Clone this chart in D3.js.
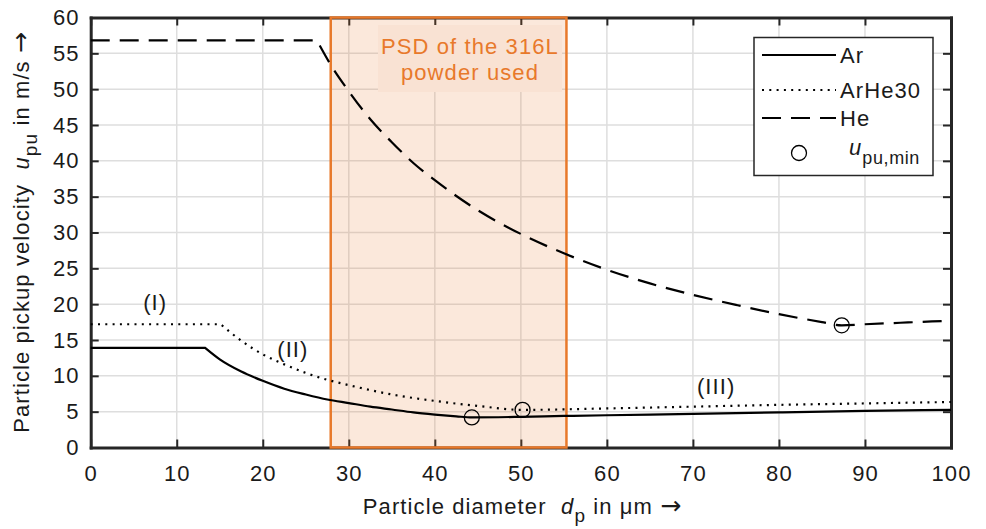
<!DOCTYPE html>
<html><head><meta charset="utf-8">
<script src="https://cdn.jsdelivr.net/npm/d3@7"></script>
<style>body{margin:0;background:#fff}svg{display:block;font-family:"Liberation Sans",Arial,sans-serif}</style>
</head><body><svg id="c" width="986" height="529"></svg>
<script>
// ---- data ----
const xTicks = [0,10,20,30,40,50,60,70,80,90,100];
const yTicks = [0,5,10,15,20,25,30,35,40,45,50,55,60];
const arX = [0,13.3,15,17.5,20,22.5,25,27.5,30,32.5,35,37.5,40,42.5,44.3,50,55,60,70,80,90,100];
const arY = [13.9,13.9,12.3,10.6,9.3,8.2,7.4,6.7,6.2,5.7,5.3,4.9,4.6,4.35,4.2,4.28,4.4,4.5,4.7,4.9,5.1,5.25];
const ahX = [0,15.1,17.5,20,22.5,25,27.5,30,35,40,45,50.2,60,70,80,90,100];
const ahY = [17.2,17.2,14.9,13.0,11.6,10.4,9.45,8.7,7.4,6.5,5.8,5.25,5.45,5.7,5.95,6.15,6.35];
const heX = [0,26.3,28,30,32.5,35,37.5,40,45,50,55,60,65,70,75,80,85,87.3,90,95,100];
const heY = [56.8,56.8,53.2,49.7,45.8,42.6,39.7,37.3,33.1,29.8,27.1,24.8,22.9,21.3,19.9,18.6,17.5,17.05,17.2,17.45,17.7];
const minX = [44.3,50.2,87.3];
const minY = [4.2,5.25,17.05];
const psdRange = [27.9,55.3];
const regionLabels = ["(I)","(II)","(III)"];
const regionX = [7.5,23.5,72.7];
const regionY = [19.2,12.6,7.45];
const legendNames = ["Ar","ArHe30","He"];
const legendDash = [null,"2,5.3","19,10"];

const svg = d3.select("#c");
const L=90.7,R=951,T=17.5,B=447.5;
const x = d3.scaleLinear().domain([0,100]).range([L,R]);
const y = d3.scaleLinear().domain([0,60]).range([B,T]);
const axisCol="#262626", orange="#e8792b", fs=22, ls="1.1px", txt="#1a1a1a";

// grid
const g = svg.append("g");
g.selectAll(".gx").data(xTicks.slice(1,-1)).join("line")
 .attr("x1",d=>x(d)).attr("x2",d=>x(d)).attr("y1",T).attr("y2",B)
 .attr("stroke","#dedede").attr("stroke-width",1.5);
g.selectAll(".gy").data(yTicks.slice(1,-1)).join("line")
 .attr("y1",d=>y(d)).attr("y2",d=>y(d)).attr("x1",L).attr("x2",R)
 .attr("stroke","#dedede").attr("stroke-width",1.5);

// axes (box with inward ticks)
const tl=8;
function styleAx(s){
  s.select(".domain").attr("stroke",axisCol).attr("stroke-width",3).attr("stroke-linecap","square");
  s.selectAll(".tick line").attr("stroke",axisCol).attr("stroke-width",2);
  s.selectAll("text").attr("font-size",fs).attr("fill",txt).attr("font-family","Liberation Sans, Arial").attr("letter-spacing",ls);
}
const ax = svg.append("g");
ax.append("g").attr("transform",`translate(0,${B})`)
 .call(d3.axisBottom(x).tickValues(xTicks).tickSizeInner(-tl).tickSizeOuter(0).tickPadding(17.5)).call(styleAx);
ax.append("g").attr("transform",`translate(${L},0)`)
 .call(d3.axisLeft(y).tickValues(yTicks).tickSizeInner(-tl).tickSizeOuter(0).tickPadding(11)).call(styleAx);
ax.append("g").attr("transform",`translate(0,${T})`)
 .call(d3.axisTop(x).tickValues(xTicks).tickSizeInner(-tl).tickSizeOuter(0).tickFormat("")).call(styleAx);
ax.append("g").attr("transform",`translate(${R},0)`)
 .call(d3.axisRight(y).tickValues(yTicks).tickSizeInner(-tl).tickSizeOuter(0).tickFormat("")).call(styleAx);

// PSD region
svg.append("rect").attr("x",x(psdRange[0])).attr("y",T).attr("width",x(psdRange[1])-x(psdRange[0])).attr("height",B-T)
 .attr("fill",orange).attr("fill-opacity",0.17).attr("stroke",orange).attr("stroke-width",2.5);

// curves: flat plateau then smooth branch
const smooth = d3.line().x(d=>x(d[0])).y(d=>y(d[1])).curve(d3.curveMonotoneX);
const series = [[arX,arY,null],[ahX,ahY,"2,5.3"],[heX,heY,"19,10"]];
series.forEach(([xs,ys,dash])=>{
  const pts = xs.map((v,i)=>[v,ys[i]]);
  const tail = smooth(pts.slice(1));
  const d = `M${x(pts[0][0])},${y(pts[0][1])}L` + tail.slice(1);
  svg.append("path").attr("d",d)
   .attr("fill","none").attr("stroke","#000").attr("stroke-width",2.2)
   .attr("stroke-dasharray",dash);
});
svg.selectAll(".mn").data(minX.map((v,i)=>[v,minY[i]])).join("circle")
 .attr("cx",d=>x(d[0])).attr("cy",d=>y(d[1])).attr("r",7.5)
 .attr("fill","none").attr("stroke","#000").attr("stroke-width",1.3);

// PSD text box
const bx0=378,bx1=562;
svg.append("rect").attr("x",bx0).attr("y",25).attr("width",bx1-bx0).attr("height",67).attr("fill","#f9e2d3");
svg.append("text").attr("x",(bx0+bx1)/2).attr("y",54).attr("text-anchor","middle").attr("font-size",fs).attr("letter-spacing",ls).attr("fill",orange).text("PSD of the 316L");
svg.append("text").attr("x",(bx0+bx1)/2).attr("y",80).attr("text-anchor","middle").attr("font-size",fs).attr("letter-spacing",ls).attr("fill",orange).text("powder used");

// region labels
svg.selectAll(".rl").data(regionLabels).join("text")
 .attr("x",(d,i)=>x(regionX[i])).attr("y",(d,i)=>y(regionY[i])).attr("text-anchor","middle")
 .attr("font-size",fs).attr("letter-spacing",ls).attr("fill",txt).text(d=>d);

// axis titles
const xt = svg.append("text").attr("x",522).attr("y",514).attr("text-anchor","middle").attr("font-size",fs).attr("letter-spacing",ls).attr("fill",txt);
xt.append("tspan").text("Particle diameter\u00a0\u00a0");
xt.append("tspan").attr("font-style","italic").text("d");
xt.append("tspan").attr("dy",8).attr("font-size",19).text("p");
xt.append("tspan").attr("dy",-8).text(" in μm ");
xt.append("tspan").attr("font-family","DejaVu Sans").attr("font-size",25).attr("letter-spacing","0px").text("→");
const yt = svg.append("text").attr("transform",`translate(29,${(T+B)/2}) rotate(-90)`).attr("text-anchor","middle").attr("font-size",fs).attr("letter-spacing",ls).attr("fill",txt);
yt.append("tspan").text("Particle pickup velocity\u00a0\u00a0");
yt.append("tspan").attr("font-style","italic").text("u");
yt.append("tspan").attr("dy",8).attr("font-size",19).text("pu");
yt.append("tspan").attr("dy",-8).text(" in m/s ");
yt.append("tspan").attr("font-family","DejaVu Sans").attr("font-size",25).attr("letter-spacing","0px").text("→");

// legend
const lg = svg.append("g");
lg.append("rect").attr("x",754).attr("y",37.5).attr("width",179).attr("height",138).attr("fill","#fff").attr("stroke",axisCol).attr("stroke-width",1.5);
const ly=[55,90,118];
legendNames.forEach((n,i)=>{
  lg.append("line").attr("x1",762).attr("x2",836).attr("y1",ly[i]).attr("y2",ly[i]).attr("stroke","#000").attr("stroke-width",2.2).attr("stroke-dasharray",legendDash[i]);
  lg.append("text").attr("x",840).attr("y",ly[i]+8).attr("font-size",fs).attr("letter-spacing",ls).attr("fill",txt).text(n);
});
lg.append("circle").attr("cx",799).attr("cy",153).attr("r",7.5).attr("fill","none").attr("stroke","#000").attr("stroke-width",1.3);
const lt = lg.append("text").attr("x",849).attr("y",155).attr("font-size",fs).attr("letter-spacing",ls).attr("fill",txt);
lt.append("tspan").attr("font-style","italic").text("u");
lt.append("tspan").attr("dy",9).attr("font-size",18).attr("letter-spacing","0.6px").text("pu,min");
</script></body></html>
